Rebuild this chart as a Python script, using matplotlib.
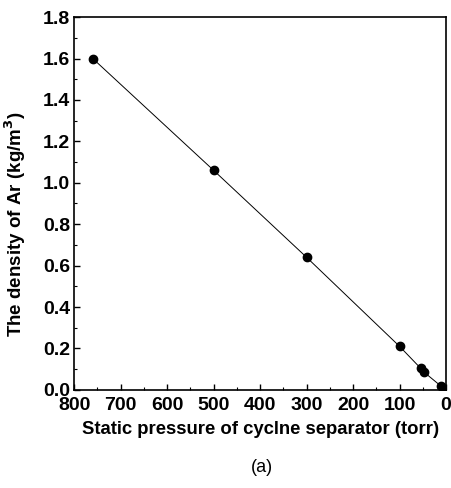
import matplotlib
matplotlib.use("Agg")
import matplotlib.pyplot as plt
from matplotlib.ticker import MultipleLocator

plt.rcParams['font.family'] = ['Liberation Sans', 'DejaVu Sans']

pressure = [760, 500, 300, 100, 55, 47, 12, 5]
density = [1.60, 1.06, 0.64, 0.21, 0.105, 0.085, 0.02, 0.005]

fig = plt.figure(figsize=(4.52, 4.88), dpi=100)
ax = fig.add_axes([0.164, 0.201, 0.823, 0.764])

ax.plot(pressure, density, color='black', lw=0.7, marker='o', ms=6,
        markerfacecolor='black', markeredgecolor='black')

ax.set_xlim(800, 0)
ax.set_ylim(0, 1.8)
ax.xaxis.set_major_locator(MultipleLocator(100))
ax.xaxis.set_minor_locator(MultipleLocator(50))
ax.yaxis.set_major_locator(MultipleLocator(0.2))
ax.yaxis.set_minor_locator(MultipleLocator(0.1))
ax.yaxis.set_major_formatter(plt.FuncFormatter(lambda v, p: f"{v:.1f}"))

ax.tick_params(which='both', direction='in', top=False, right=False)
ax.tick_params(which='major', length=4, width=1, labelsize=14)
ax.tick_params(axis='x', which='major', pad=5)
ax.tick_params(axis='y', which='major', pad=3)
ax.tick_params(which='minor', length=2, width=0.8)
for lab in ax.get_xticklabels() + ax.get_yticklabels():
    lab.set_fontweight('bold')
for s in ax.spines.values():
    s.set_linewidth(1.2)

ax.set_xlabel("Static pressure of cyclne separator (torr)", fontsize=13.3,
              fontweight='bold', labelpad=5)
ax.set_ylabel("The density of Ar (kg/m$^\\mathbf{3}$)", fontsize=13.5,
              fontweight='bold')
ax.yaxis.set_label_coords(-0.124, 0.445)

fig.text(0.58, 0.033, "(a)", fontsize=13, ha='center')

fig.savefig("out.png", dpi=100)
